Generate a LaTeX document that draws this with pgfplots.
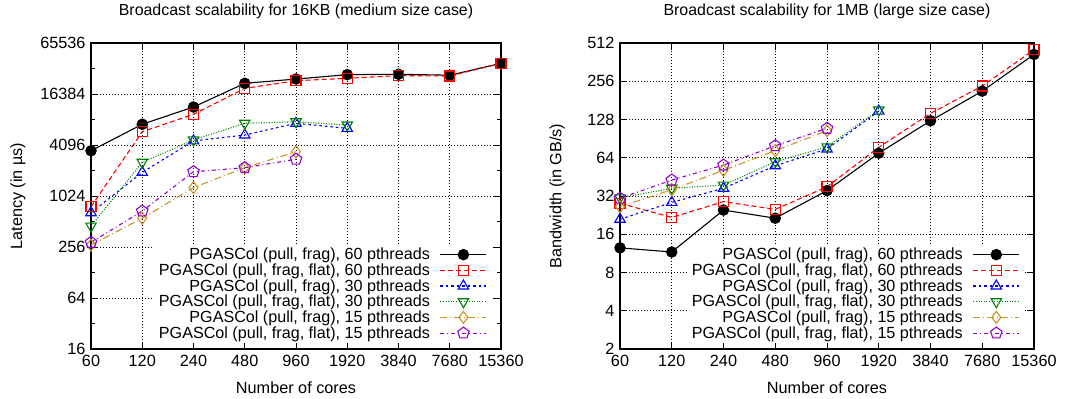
\documentclass[border=0pt]{standalone}
\usepackage{fontspec}
\setmainfont{Liberation Sans}
\usepackage{pgfplots}
\pgfplotsset{compat=1.18}
\definecolor{cgreen}{RGB}{0,128,0}
\definecolor{corange}{RGB}{200,150,40}
\definecolor{cpurple}{RGB}{148,0,211}
\pgfplotsset{
  legend image code/.code={\draw[mark repeat=2,mark phase=2,#1] plot coordinates {(0bp,0bp) (23bp,0bp) (46bp,0bp)};},
  s1/.style={black, solid, mark=*, mark size=5.2bp, mark options={solid, fill=black}},
  s2/.style={red, dash pattern=on 5bp off 3bp, mark=square, mark size=5bp, mark options={solid}},
  s3/.style={blue, dash pattern=on 2.5bp off 3bp, mark=triangle, mark size=6bp, mark options={solid}},
  s4/.style={cgreen, dash pattern=on 1bp off 1.6bp, mark=triangle, mark size=6bp, mark options={solid, rotate=180}},
  s5/.style={corange, dash pattern=on 7bp off 3bp on 1bp off 3bp, mark=diamond, mark size=6bp, mark options={solid}},
  s6/.style={cpurple, dash pattern=on 4bp off 3bp on 1bp off 3bp, mark=pentagon, mark size=6bp, mark options={solid}},
}
\begin{document}
\begin{tikzpicture}
\pgfplotsset{
    scale only axis,
    height=306bp,
    xmin=60, xmax=15360,
    xtick={60,120,240,480,960,1920,3840,7680,15360},
    xticklabels={60,120,240,480,960,1920,3840,7680,15360},
    /pgf/number format/assume math mode=true,
    tick label style={font=\fontsize{16.3}{18}\selectfont},
    label style={font=\fontsize{16.3}{18}\selectfont},
    title style={font=\fontsize{16}{18}\selectfont, at={(0.5,1.085)}, anchor=center},
    xlabel={Number of cores},
    xlabel style={at={(0.5,-0.127)}, anchor=center},
    xticklabel style={yshift=-3bp},
    yticklabel style={xshift=-2bp},
    tick align=inside,
    major tick length=7bp,
    tick style={black, line width=0.7bp},
    axis line style={line width=1.1bp},
    grid=major,
    major grid style={black, line width=0.6bp, dash pattern=on 1bp off 2bp},
    every axis plot/.append style={line width=1.1bp},
    legend cell align=right,
    legend plot pos=right,
    legend style={draw=none, fill=white, font=\fontsize{16.2}{16}\selectfont,
      at={(0.976,0.02)}, anchor=south east, row sep=0.5bp,
      inner xsep=4bp, inner ysep=2bp,
      nodes={inner sep=1bp},
      /tikz/every odd column/.append style={column sep=9bp}},
}
\path[use as bounding box] (0,0) rectangle (1068bp,399bp);
\begin{loglogaxis}[width=410bp, at={(91bp,50bp)}, anchor=south west,
  log basis x=2, log basis y=2,
  title={Broadcast scalability for 16KB (medium size case)},
  ymin=16, ymax=65536,
  ytick={16,64,256,1024,4096,16384,65536},
  yticklabels={16,64,256,1024,4096,16384,65536},
  extra y ticks={32,128,512,2048,8192,32768},
  extra y tick labels={},
  extra y tick style={grid=none, major tick length=4bp},
  ylabel={Latency (in µs)},
  ylabel style={at={(-0.178,0.5)}, anchor=center},
]
\addplot[s1] coordinates {(60,3500) (120,7200) (240,11500) (480,21900) (960,24600) (1920,27700) (3840,28000) (7680,27300) (15360,37700)};
\addlegendentry{PGASCol (pull, frag), 60 pthreads}
\addplot[s2] coordinates {(60,765) (120,5880) (240,9420) (480,19100) (960,23500) (1920,25100) (3840,27000) (7680,26700) (15360,37700)};
\addlegendentry{PGASCol (pull, frag, flat), 60 pthreads}
\addplot[s3] coordinates {(60,650) (120,1950) (240,4580) (480,5370) (960,7390) (1920,6440)};
\addlegendentry{PGASCol (pull, frag), 30 pthreads}
\addplot[s4] coordinates {(60,452) (120,2560) (240,4700) (480,7390) (960,7700) (1920,7050)};
\addlegendentry{PGASCol (pull, frag, flat), 30 pthreads}
\addplot[s5] coordinates {(60,270) (120,560) (240,1285) (480,2210) (960,3410)};
\addlegendentry{PGASCol (pull, frag), 15 pthreads}
\addplot[s6] coordinates {(60,290) (120,680) (240,1980) (480,2210) (960,2780)};
\addlegendentry{PGASCol (pull, frag, flat), 15 pthreads}
\end{loglogaxis}
\begin{loglogaxis}[width=414bp, at={(620bp,50bp)}, anchor=south west,
  log basis x=2, log basis y=2,
  title={Broadcast scalability for 1MB (large size case)},
  ymin=2, ymax=512,
  ytick={2,4,8,16,32,64,128,256,512},
  yticklabels={2,4,8,16,32,64,128,256,512},
  ylabel={Bandwidth (in GB/s)},
  ylabel style={at={(-0.152,0.5)}, anchor=center},
]
\addplot[s1] coordinates {(60,12.5) (120,11.6) (240,24.8) (480,21.4) (960,35.3) (1920,69.5) (3840,125) (7680,214) (15360,416)};
\addlegendentry{PGASCol (pull, frag), 60 pthreads}
\addplot[s2] coordinates {(60,28) (120,21.7) (240,28.9) (480,25.1) (960,37.8) (1920,77.3) (3840,143) (7680,235) (15360,452)};
\addlegendentry{PGASCol (pull, frag, flat), 60 pthreads}
\addplot[s3] coordinates {(60,21) (120,28.5) (240,36.8) (480,55.4) (960,75) (1920,149)};
\addlegendentry{PGASCol (pull, frag), 30 pthreads}
\addplot[s4] coordinates {(60,30.9) (120,36.8) (240,39) (480,59.5) (960,78) (1920,152)};
\addlegendentry{PGASCol (pull, frag, flat), 30 pthreads}
\addplot[s5] coordinates {(60,26.4) (120,35.8) (240,51) (480,72.7) (960,104.5)};
\addlegendentry{PGASCol (pull, frag), 15 pthreads}
\addplot[s6] coordinates {(60,30.7) (120,42.7) (240,56) (480,79.5) (960,109)};
\addlegendentry{PGASCol (pull, frag, flat), 15 pthreads}
\end{loglogaxis}
\end{tikzpicture}
\end{document}
